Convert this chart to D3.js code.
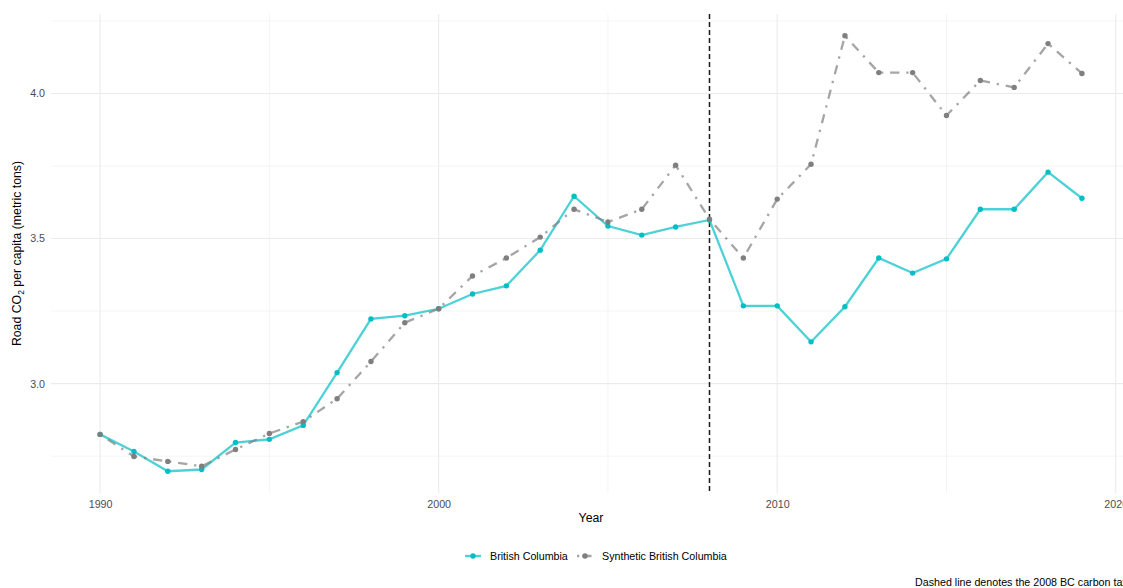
<!DOCTYPE html>
<html>
<head>
<meta charset="utf-8">
<script src="https://cdn.jsdelivr.net/npm/d3@7"></script>
<style>
  body { margin: 0; background: #fff; overflow: hidden; }
  svg { display: block; font-family: "Liberation Sans", Arial, sans-serif; }
</style>
</head>
<body>
<div id="chart"></div>
<script>
// data
const years = d3.range(1990, 2020);
const bcValues = [2.825, 2.766, 2.698, 2.704, 2.797, 2.808, 2.856, 3.038, 3.223, 3.234,
  3.258, 3.309, 3.337, 3.460, 3.646, 3.543, 3.512, 3.540, 3.564, 3.268,
  3.268, 3.144, 3.265, 3.433, 3.381, 3.430, 3.601, 3.601, 3.729, 3.639];
const synthValues = [2.825, 2.749, 2.732, 2.715, 2.773, 2.828, 2.869, 2.948, 3.076, 3.210,
  3.258, 3.371, 3.433, 3.505, 3.601, 3.557, 3.601, 3.753, 3.567, 3.433,
  3.636, 3.756, 4.199, 4.072, 4.072, 3.924, 4.045, 4.021, 4.172, 4.069];
const seriesNames = ["British Columbia", "Synthetic British Columbia"];
const xTicks = [1990, 2000, 2010, 2020];
const xMinor = [1995, 2005, 2015];
const yTicks = [3.0, 3.5, 4.0];
const yMinor = [2.75, 3.25, 3.75, 4.25];
const treatYear = 2008;

const width = 1123, height = 588;
const panel = { left: 51, top: 14, bottom: 493 };

const svg = d3.select("#chart").append("svg")
  .attr("width", width).attr("height", height);

// ggplot-style expanded domains
const xScale = d3.scaleLinear().domain([1988.55, 2020.45]).range([panel.left, 1131]);
const yScale = d3.scaleLinear().domain([2.623, 4.274]).range([panel.bottom, panel.top]);

// grid
const grid = svg.append("g");
grid.selectAll("line.ymin").data(yMinor).join("line")
  .attr("x1", panel.left).attr("x2", width)
  .attr("y1", d => yScale(d)).attr("y2", d => yScale(d))
  .attr("stroke", "#ebebeb").attr("stroke-width", 0.55);
grid.selectAll("line.xmin").data(xMinor).join("line")
  .attr("x1", d => xScale(d)).attr("x2", d => xScale(d))
  .attr("y1", panel.top).attr("y2", panel.bottom)
  .attr("stroke", "#ebebeb").attr("stroke-width", 0.55);
grid.selectAll("line.ymaj").data(yTicks).join("line")
  .attr("x1", panel.left).attr("x2", width)
  .attr("y1", d => yScale(d)).attr("y2", d => yScale(d))
  .attr("stroke", "#ebebeb").attr("stroke-width", 1.1);
grid.selectAll("line.xmaj").data(xTicks).join("line")
  .attr("x1", d => xScale(d)).attr("x2", d => xScale(d))
  .attr("y1", panel.top).attr("y2", panel.bottom)
  .attr("stroke", "#ebebeb").attr("stroke-width", 1.1);

// axes (text only, no domain/ticks)
const xAxis = svg.append("g")
  .attr("transform", `translate(0, ${panel.bottom})`)
  .call(d3.axisBottom(xScale).tickValues(xTicks).tickFormat(d3.format("d")).tickSize(0).tickPadding(7));
const yAxis = svg.append("g")
  .attr("transform", `translate(${panel.left}, 0)`)
  .call(d3.axisLeft(yScale).tickValues(yTicks).tickFormat(d3.format(".1f")).tickSize(0).tickPadding(6));
[xAxis, yAxis].forEach(a => {
  a.select(".domain").remove();
  a.selectAll("text").attr("fill", "#4d4d4d").style("font-size", "10.7px")
    .style("font-family", "'Liberation Sans', Arial, sans-serif");
});

// treatment line
svg.append("line")
  .attr("x1", xScale(treatYear)).attr("x2", xScale(treatYear))
  .attr("y1", panel.top).attr("y2", panel.bottom)
  .attr("stroke", "#1a1a1a").attr("stroke-width", 1.5)
  .attr("stroke-dasharray", "5,3");

const bcData = years.map((y, i) => ({ year: y, value: bcValues[i] }));
const synthData = years.map((y, i) => ({ year: y, value: synthValues[i] }));

const line = d3.line().x(d => xScale(d.year)).y(d => yScale(d.value));

svg.append("path").datum(bcData)
  .attr("d", line).attr("fill", "none")
  .attr("stroke", "#00BFC4").attr("stroke-opacity", 0.7).attr("stroke-width", 2.3);
svg.append("path").datum(synthData)
  .attr("d", line).attr("fill", "none")
  .attr("stroke", "#7f7f7f").attr("stroke-opacity", 0.7).attr("stroke-width", 2.3)
  .attr("stroke-dasharray", "2.3,6.9,9.2,6.9");

svg.append("g").selectAll("circle").data(bcData).join("circle")
  .attr("cx", d => xScale(d.year)).attr("cy", d => yScale(d.value))
  .attr("r", 2.7).attr("fill", "#00BFC4");
svg.append("g").selectAll("circle").data(synthData).join("circle")
  .attr("cx", d => xScale(d.year)).attr("cy", d => yScale(d.value))
  .attr("r", 2.7).attr("fill", "#7f7f7f");

// axis titles
svg.append("text").text("Year")
  .attr("x", (panel.left + 1131) / 2).attr("y", 522)
  .attr("text-anchor", "middle").attr("font-size", "12.3px").attr("fill", "#000");

const yTitle = svg.append("text")
  .attr("transform", `translate(21, ${(panel.top + panel.bottom) / 2}) rotate(-90)`)
  .attr("text-anchor", "middle").attr("font-size", "12.3px").attr("fill", "#000");
yTitle.append("tspan").text("Road CO");
yTitle.append("tspan").text("2").attr("font-size", "8.6px").attr("dy", "3");
yTitle.append("tspan").text(" per capita (metric tons)").attr("dy", "-3");

// legend
const legend = svg.append("g").attr("transform", "translate(0, 556)");
const legendItems = [
  { name: seriesNames[0], x: 465, color: "#00BFC4", dash: null },
  { name: seriesNames[1], x: 577, color: "#7f7f7f", dash: "2.3,3,9.2,3" }
];
legendItems.forEach(it => {
  legend.append("line")
    .attr("x1", it.x).attr("x2", it.x + 16).attr("y1", 0).attr("y2", 0)
    .attr("stroke", it.color).attr("stroke-opacity", 0.7).attr("stroke-width", 2.3)
    .attr("stroke-dasharray", it.dash);
  legend.append("circle").attr("cx", it.x + 8).attr("cy", 0).attr("r", 2.7).attr("fill", it.color);
  legend.append("text").text(it.name)
    .attr("x", it.x + 25).attr("y", 3.8)
    .attr("font-size", "10.7px").attr("fill", "#000");
});

// caption
svg.append("text").text("Dashed line denotes the 2008 BC carbon tax implementation")
  .attr("x", 915).attr("y", 586)
  .attr("font-size", "10.7px").attr("fill", "#000");
</script>
</body>
</html>
